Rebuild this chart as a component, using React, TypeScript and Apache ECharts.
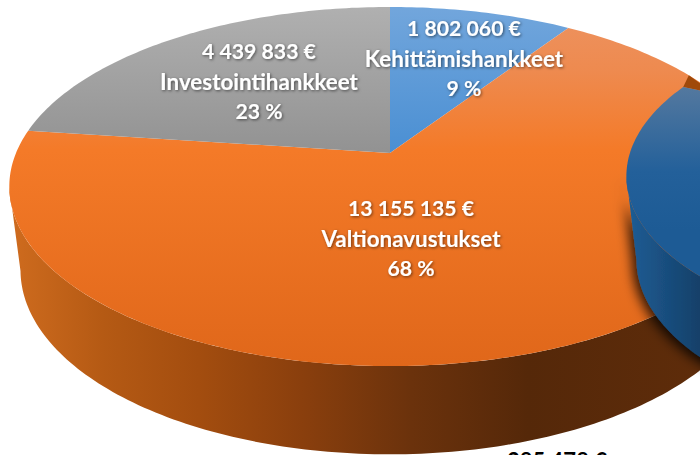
import React, { useEffect, useRef } from "react";
import * as echarts from "echarts";

const categories = ["Kehittämishankkeet", "Valtionavustukset", "Investointihankkeet"];
const values = [1802060, 13155135, 4439833];
const cutSliceShare = [23];
const cutLabel = "385 478 €";

const fmt = (v: number) => String(v).replace(/\B(?=(\d{3})+$)/g, " ") + " €";
const total = values.reduce((a, b) => a + b, 0);

type Disc = { cx: number; ay: number; A: number; B: number };
const K = 0.1867;
const topDisc: Disc = { cx: 390, ay: 153, A: 374, B: 173.3 };
const botDisc: Disc = { cx: 390, ay: 235.7, A: 363, B: 177.8 };
const cutScale = 0.9;
const cutTop: Disc = { cx: 969, ay: 146, A: 374 * cutScale, B: 173.3 * cutScale };
const cutBot: Disc = { cx: 969, ay: 228.7, A: 363 * cutScale, B: 177.8 * cutScale };
const cutStart = -66;
// angles at which the disc's outline is widest: the wall is only seen between them
const wallFrom = 101;
const wallTo = 259;

const project = (d: Disc, deg: number): number[] => {
  const t = (deg * Math.PI) / 180;
  const x = Math.sin(t);
  const y = Math.cos(t);
  const w = 1 + K * y;
  return [d.cx + (d.A * x) / w, d.ay - (d.B * y) / w];
};
const arc = (d: Disc, a: number, b: number): number[][] => {
  const n = Math.max(2, Math.ceil(Math.abs(b - a)));
  const out: number[][] = [];
  for (let i = 0; i <= n; i++) out.push(project(d, a + ((b - a) * i) / n));
  return out;
};
const angleRange = (i: number): number[] => {
  let s = 0;
  for (let j = 0; j < i; j++) s += values[j];
  return [(s / total) * 360, ((s + values[i]) / total) * 360];
};

const grad = (x: number, y: number, x2: number, y2: number, stops: [number, string][]) =>
  new echarts.graphic.LinearGradient(x, y, x2, y2, stops.map(([offset, color]) => ({ offset, color })), true);

const topFills = [
  grad(0, 7, 0, 153, [[0, "#72A6DC"], [1, "#4A8FD3"]]),
  grad(0, 7, 0, 366, [[0, "#ED9361"], [0.18, "#EE8A4F"], [0.4, "#F47A28"], [1, "#E0671A"]]),
  grad(0, 7, 0, 153, [[0, "#B0B0B0"], [1, "#929292"]]),
];
const sideFill = grad(13, 0, 700, 0, [
  [0, "#CE6B1E"],
  [0.13, "#B55A14"],
  [0.27, "#A34D0F"],
  [0.42, "#8A3F0D"],
  [0.58, "#6B320C"],
  [0.75, "#552809"],
  [1, "#5E2C0A"],
]);
const cutTopFill = grad(0, 85, 0, 230, [[0, "#55799F"], [0.6, "#23609A"], [1, "#1D5B95"]]);
const cutSideFill = grad(632, 0, 700, 0, [[0, "#1F5B92"], [1, "#134069"]]);

const labelCentres = [
  [464, 58],
  [411, 238],
  [259, 81],
];
const lineGap = 30;
const FONT_NAME = "bold 22.4px Lato";
const FONT_NUM = "bold 21.2px Lato";

export default function App() {
  const ref = useRef<HTMLDivElement>(null);
  useEffect(() => {
    const chart = echarts.init(ref.current!, null, { renderer: "svg", width: 700, height: 455 });
    const rows = values.map((v, i) => ({ name: categories[i], value: [v] }));
    const textStyle = (text: string, x: number, y: number, font: string) => ({
      type: "text",
      style: {
        text,
        x,
        y,
        fill: "#fff",
        font,
        align: "center",
        verticalAlign: "middle",
        textShadowColor: "rgba(0,0,0,0.55)",
        textShadowBlur: 3,
        textShadowOffsetX: 1,
        textShadowOffsetY: 1,
      },
    });
    chart.setOption({
      animation: false,
      series: [
        {
          type: "custom",
          coordinateSystem: "none",
          z: 1,
          silent: true,
          data: rows,
          renderItem: (p: any) => {
            const [a, b] = angleRange(p.dataIndex);
            const lo = Math.max(a, wallFrom);
            const hi = Math.min(b, wallTo);
            if (hi <= lo) return null;
            return {
              type: "polygon",
              shape: { points: [...arc(topDisc, lo, hi), ...arc(botDisc, hi, lo)] },
              style: { fill: sideFill },
            };
          },
        },
        {
          type: "custom",
          coordinateSystem: "none",
          z: 2,
          silent: true,
          data: rows,
          renderItem: (p: any) => {
            const [a, b] = angleRange(p.dataIndex);
            return {
              type: "polygon",
              shape: { points: [[topDisc.cx, topDisc.ay], ...arc(topDisc, a, b)] },
              style: { fill: topFills[p.dataIndex] },
            };
          },
        },
        {
          type: "custom",
          coordinateSystem: "none",
          z: 3,
          silent: true,
          data: cutSliceShare.map((v) => ({ value: [v] })),
          renderItem: (_p: any, api: any) => {
            const end = cutStart - (api.value(0) / 100) * 360;
            const corner = project(cutTop, cutStart);
            const t = 0.12;
            const inward = [
              corner[0] + (cutTop.cx - corner[0]) * t,
              corner[1] + (cutTop.ay - corner[1]) * t,
            ];
            return {
              type: "group",
              children: [
                {
                  type: "polygon",
                  shape: { points: [corner, project(topDisc, 60.7), project(topDisc, 72), inward] },
                  style: { fill: "#A0490A" },
                },
                {
                  type: "polygon",
                  shape: { points: [...arc(cutTop, -wallFrom, end), ...arc(cutBot, end, -wallFrom)] },
                  style: {
                    fill: cutSideFill,
                    shadowColor: "rgba(0,0,0,0.8)",
                    shadowBlur: 12,
                    shadowOffsetX: -4,
                    shadowOffsetY: 3,
                  },
                },
                {
                  type: "polygon",
                  shape: { points: [[cutTop.cx, cutTop.ay], ...arc(cutTop, cutStart, end)] },
                  style: { fill: cutTopFill },
                },
              ],
            };
          },
        },
        {
          type: "custom",
          coordinateSystem: "none",
          z: 4,
          silent: true,
          data: rows,
          renderItem: (p: any, api: any) => {
            const [x, y] = labelCentres[p.dataIndex];
            const v = api.value(0);
            return {
              type: "group",
              children: [
                textStyle(fmt(v), x, y - lineGap, FONT_NUM),
                textStyle(categories[p.dataIndex], x, y, FONT_NAME),
                textStyle(`${Math.round((v / total) * 100)} %`, x, y + lineGap, FONT_NUM),
              ],
            };
          },
        },
      ],
      graphic: [
        {
          type: "text",
          z: 5,
          style: {
            text: cutLabel,
            x: 557,
            y: 460,
            fill: "#000",
            font: "bold 22px Lato",
            align: "center",
            verticalAlign: "middle",
          },
        },
      ],
    });
    return () => chart.dispose();
  }, []);
  return <div ref={ref} style={{ position: "fixed", left: 0, top: 0, width: 700, height: 455, overflow: "hidden", background: "#fff" }} />;
}
